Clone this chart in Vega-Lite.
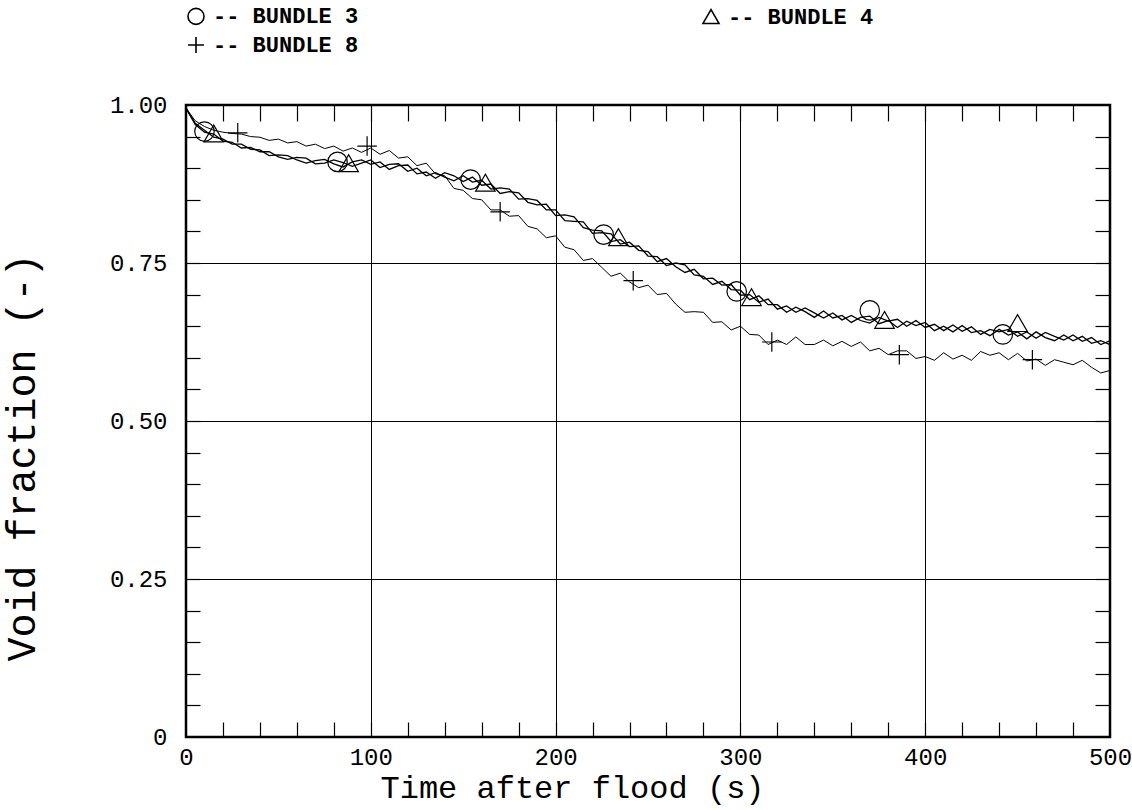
{
"$schema": "https://vega.github.io/schema/vega-lite/v6.json",
"width": 924, "height": 632,
"autosize": {"type": "none"},
"padding": {"left": 186, "top": 105, "right": 22, "bottom": 73},
"background": "white",
"config": {"view": {"stroke": "black", "strokeWidth": 2.5}, "font": "Liberation Mono"},
"datasets": {
"curves": [
{"bundle":"BUNDLE 3","t":0,"v":0.995},{"bundle":"BUNDLE 3","t":5,"v":0.971},{"bundle":"BUNDLE 3","t":10,"v":0.960},{"bundle":"BUNDLE 3","t":15,"v":0.949},{"bundle":"BUNDLE 3","t":20,"v":0.946},{"bundle":"BUNDLE 3","t":25,"v":0.938},{"bundle":"BUNDLE 3","t":30,"v":0.938},{"bundle":"BUNDLE 3","t":35,"v":0.930},{"bundle":"BUNDLE 3","t":40,"v":0.929},{"bundle":"BUNDLE 3","t":45,"v":0.920},{"bundle":"BUNDLE 3","t":50,"v":0.921},{"bundle":"BUNDLE 3","t":55,"v":0.920},{"bundle":"BUNDLE 3","t":60,"v":0.913},{"bundle":"BUNDLE 3","t":65,"v":0.908},{"bundle":"BUNDLE 3","t":70,"v":0.912},{"bundle":"BUNDLE 3","t":75,"v":0.914},{"bundle":"BUNDLE 3","t":80,"v":0.907},{"bundle":"BUNDLE 3","t":85,"v":0.902},{"bundle":"BUNDLE 3","t":90,"v":0.910},{"bundle":"BUNDLE 3","t":95,"v":0.913},{"bundle":"BUNDLE 3","t":100,"v":0.906},{"bundle":"BUNDLE 3","t":105,"v":0.910},{"bundle":"BUNDLE 3","t":110,"v":0.898},{"bundle":"BUNDLE 3","t":115,"v":0.904},{"bundle":"BUNDLE 3","t":120,"v":0.905},{"bundle":"BUNDLE 3","t":125,"v":0.891},{"bundle":"BUNDLE 3","t":130,"v":0.894},{"bundle":"BUNDLE 3","t":135,"v":0.884},{"bundle":"BUNDLE 3","t":140,"v":0.893},{"bundle":"BUNDLE 3","t":145,"v":0.888},{"bundle":"BUNDLE 3","t":150,"v":0.879},{"bundle":"BUNDLE 3","t":155,"v":0.886},{"bundle":"BUNDLE 3","t":160,"v":0.873},{"bundle":"BUNDLE 3","t":165,"v":0.875},{"bundle":"BUNDLE 3","t":170,"v":0.860},{"bundle":"BUNDLE 3","t":175,"v":0.863},{"bundle":"BUNDLE 3","t":180,"v":0.861},{"bundle":"BUNDLE 3","t":185,"v":0.846},{"bundle":"BUNDLE 3","t":190,"v":0.842},{"bundle":"BUNDLE 3","t":195,"v":0.843},{"bundle":"BUNDLE 3","t":200,"v":0.825},{"bundle":"BUNDLE 3","t":205,"v":0.826},{"bundle":"BUNDLE 3","t":210,"v":0.823},{"bundle":"BUNDLE 3","t":215,"v":0.806},{"bundle":"BUNDLE 3","t":220,"v":0.802},{"bundle":"BUNDLE 3","t":225,"v":0.801},{"bundle":"BUNDLE 3","t":230,"v":0.784},{"bundle":"BUNDLE 3","t":235,"v":0.787},{"bundle":"BUNDLE 3","t":240,"v":0.776},{"bundle":"BUNDLE 3","t":245,"v":0.777},{"bundle":"BUNDLE 3","t":250,"v":0.761},{"bundle":"BUNDLE 3","t":255,"v":0.760},{"bundle":"BUNDLE 3","t":260,"v":0.746},{"bundle":"BUNDLE 3","t":265,"v":0.750},{"bundle":"BUNDLE 3","t":270,"v":0.747},{"bundle":"BUNDLE 3","t":275,"v":0.731},{"bundle":"BUNDLE 3","t":280,"v":0.729},{"bundle":"BUNDLE 3","t":285,"v":0.716},{"bundle":"BUNDLE 3","t":290,"v":0.721},{"bundle":"BUNDLE 3","t":295,"v":0.708},{"bundle":"BUNDLE 3","t":300,"v":0.707},{"bundle":"BUNDLE 3","t":305,"v":0.692},{"bundle":"BUNDLE 3","t":310,"v":0.698},{"bundle":"BUNDLE 3","t":315,"v":0.684},{"bundle":"BUNDLE 3","t":320,"v":0.684},{"bundle":"BUNDLE 3","t":325,"v":0.672},{"bundle":"BUNDLE 3","t":330,"v":0.680},{"bundle":"BUNDLE 3","t":335,"v":0.673},{"bundle":"BUNDLE 3","t":340,"v":0.664},{"bundle":"BUNDLE 3","t":345,"v":0.674},{"bundle":"BUNDLE 3","t":350,"v":0.663},{"bundle":"BUNDLE 3","t":355,"v":0.667},{"bundle":"BUNDLE 3","t":360,"v":0.656},{"bundle":"BUNDLE 3","t":365,"v":0.664},{"bundle":"BUNDLE 3","t":370,"v":0.666},{"bundle":"BUNDLE 3","t":375,"v":0.654},{"bundle":"BUNDLE 3","t":380,"v":0.659},{"bundle":"BUNDLE 3","t":385,"v":0.648},{"bundle":"BUNDLE 3","t":390,"v":0.658},{"bundle":"BUNDLE 3","t":395,"v":0.651},{"bundle":"BUNDLE 3","t":400,"v":0.656},{"bundle":"BUNDLE 3","t":405,"v":0.643},{"bundle":"BUNDLE 3","t":410,"v":0.650},{"bundle":"BUNDLE 3","t":415,"v":0.641},{"bundle":"BUNDLE 3","t":420,"v":0.651},{"bundle":"BUNDLE 3","t":425,"v":0.640},{"bundle":"BUNDLE 3","t":430,"v":0.643},{"bundle":"BUNDLE 3","t":435,"v":0.635},{"bundle":"BUNDLE 3","t":440,"v":0.645},{"bundle":"BUNDLE 3","t":445,"v":0.636},{"bundle":"BUNDLE 3","t":450,"v":0.641},{"bundle":"BUNDLE 3","t":455,"v":0.630},{"bundle":"BUNDLE 3","t":460,"v":0.641},{"bundle":"BUNDLE 3","t":465,"v":0.632},{"bundle":"BUNDLE 3","t":470,"v":0.627},{"bundle":"BUNDLE 3","t":475,"v":0.636},{"bundle":"BUNDLE 3","t":480,"v":0.627},{"bundle":"BUNDLE 3","t":485,"v":0.634},{"bundle":"BUNDLE 3","t":490,"v":0.623},{"bundle":"BUNDLE 3","t":495,"v":0.627},{"bundle":"BUNDLE 3","t":500,"v":0.621},
{"bundle":"BUNDLE 4","t":0,"v":0.995},{"bundle":"BUNDLE 4","t":5,"v":0.969},{"bundle":"BUNDLE 4","t":10,"v":0.957},{"bundle":"BUNDLE 4","t":15,"v":0.954},{"bundle":"BUNDLE 4","t":20,"v":0.943},{"bundle":"BUNDLE 4","t":25,"v":0.941},{"bundle":"BUNDLE 4","t":30,"v":0.932},{"bundle":"BUNDLE 4","t":35,"v":0.933},{"bundle":"BUNDLE 4","t":40,"v":0.926},{"bundle":"BUNDLE 4","t":45,"v":0.926},{"bundle":"BUNDLE 4","t":50,"v":0.918},{"bundle":"BUNDLE 4","t":55,"v":0.914},{"bundle":"BUNDLE 4","t":60,"v":0.917},{"bundle":"BUNDLE 4","t":65,"v":0.916},{"bundle":"BUNDLE 4","t":70,"v":0.907},{"bundle":"BUNDLE 4","t":75,"v":0.908},{"bundle":"BUNDLE 4","t":80,"v":0.913},{"bundle":"BUNDLE 4","t":85,"v":0.909},{"bundle":"BUNDLE 4","t":90,"v":0.903},{"bundle":"BUNDLE 4","t":95,"v":0.908},{"bundle":"BUNDLE 4","t":100,"v":0.913},{"bundle":"BUNDLE 4","t":105,"v":0.901},{"bundle":"BUNDLE 4","t":110,"v":0.906},{"bundle":"BUNDLE 4","t":115,"v":0.907},{"bundle":"BUNDLE 4","t":120,"v":0.895},{"bundle":"BUNDLE 4","t":125,"v":0.900},{"bundle":"BUNDLE 4","t":130,"v":0.888},{"bundle":"BUNDLE 4","t":135,"v":0.893},{"bundle":"BUNDLE 4","t":140,"v":0.886},{"bundle":"BUNDLE 4","t":145,"v":0.880},{"bundle":"BUNDLE 4","t":150,"v":0.888},{"bundle":"BUNDLE 4","t":155,"v":0.878},{"bundle":"BUNDLE 4","t":160,"v":0.881},{"bundle":"BUNDLE 4","t":165,"v":0.867},{"bundle":"BUNDLE 4","t":170,"v":0.869},{"bundle":"BUNDLE 4","t":175,"v":0.867},{"bundle":"BUNDLE 4","t":180,"v":0.851},{"bundle":"BUNDLE 4","t":185,"v":0.852},{"bundle":"BUNDLE 4","t":190,"v":0.849},{"bundle":"BUNDLE 4","t":195,"v":0.834},{"bundle":"BUNDLE 4","t":200,"v":0.834},{"bundle":"BUNDLE 4","t":205,"v":0.817},{"bundle":"BUNDLE 4","t":210,"v":0.816},{"bundle":"BUNDLE 4","t":215,"v":0.815},{"bundle":"BUNDLE 4","t":220,"v":0.797},{"bundle":"BUNDLE 4","t":225,"v":0.798},{"bundle":"BUNDLE 4","t":230,"v":0.796},{"bundle":"BUNDLE 4","t":235,"v":0.780},{"bundle":"BUNDLE 4","t":240,"v":0.783},{"bundle":"BUNDLE 4","t":245,"v":0.770},{"bundle":"BUNDLE 4","t":250,"v":0.768},{"bundle":"BUNDLE 4","t":255,"v":0.752},{"bundle":"BUNDLE 4","t":260,"v":0.757},{"bundle":"BUNDLE 4","t":265,"v":0.744},{"bundle":"BUNDLE 4","t":270,"v":0.735},{"bundle":"BUNDLE 4","t":275,"v":0.740},{"bundle":"BUNDLE 4","t":280,"v":0.725},{"bundle":"BUNDLE 4","t":285,"v":0.726},{"bundle":"BUNDLE 4","t":290,"v":0.715},{"bundle":"BUNDLE 4","t":295,"v":0.716},{"bundle":"BUNDLE 4","t":300,"v":0.699},{"bundle":"BUNDLE 4","t":305,"v":0.700},{"bundle":"BUNDLE 4","t":310,"v":0.688},{"bundle":"BUNDLE 4","t":315,"v":0.693},{"bundle":"BUNDLE 4","t":320,"v":0.677},{"bundle":"BUNDLE 4","t":325,"v":0.682},{"bundle":"BUNDLE 4","t":330,"v":0.672},{"bundle":"BUNDLE 4","t":335,"v":0.679},{"bundle":"BUNDLE 4","t":340,"v":0.671},{"bundle":"BUNDLE 4","t":345,"v":0.663},{"bundle":"BUNDLE 4","t":350,"v":0.671},{"bundle":"BUNDLE 4","t":355,"v":0.660},{"bundle":"BUNDLE 4","t":360,"v":0.667},{"bundle":"BUNDLE 4","t":365,"v":0.659},{"bundle":"BUNDLE 4","t":370,"v":0.655},{"bundle":"BUNDLE 4","t":375,"v":0.664},{"bundle":"BUNDLE 4","t":380,"v":0.658},{"bundle":"BUNDLE 4","t":385,"v":0.661},{"bundle":"BUNDLE 4","t":390,"v":0.650},{"bundle":"BUNDLE 4","t":395,"v":0.659},{"bundle":"BUNDLE 4","t":400,"v":0.648},{"bundle":"BUNDLE 4","t":405,"v":0.653},{"bundle":"BUNDLE 4","t":410,"v":0.643},{"bundle":"BUNDLE 4","t":415,"v":0.652},{"bundle":"BUNDLE 4","t":420,"v":0.642},{"bundle":"BUNDLE 4","t":425,"v":0.649},{"bundle":"BUNDLE 4","t":430,"v":0.637},{"bundle":"BUNDLE 4","t":435,"v":0.645},{"bundle":"BUNDLE 4","t":440,"v":0.641},{"bundle":"BUNDLE 4","t":445,"v":0.645},{"bundle":"BUNDLE 4","t":450,"v":0.634},{"bundle":"BUNDLE 4","t":455,"v":0.641},{"bundle":"BUNDLE 4","t":460,"v":0.631},{"bundle":"BUNDLE 4","t":465,"v":0.640},{"bundle":"BUNDLE 4","t":470,"v":0.634},{"bundle":"BUNDLE 4","t":475,"v":0.628},{"bundle":"BUNDLE 4","t":480,"v":0.636},{"bundle":"BUNDLE 4","t":485,"v":0.626},{"bundle":"BUNDLE 4","t":490,"v":0.632},{"bundle":"BUNDLE 4","t":495,"v":0.621},{"bundle":"BUNDLE 4","t":500,"v":0.627},
{"bundle":"BUNDLE 8","t":0,"v":0.995},{"bundle":"BUNDLE 8","t":5,"v":0.975},{"bundle":"BUNDLE 8","t":10,"v":0.966},{"bundle":"BUNDLE 8","t":15,"v":0.960},{"bundle":"BUNDLE 8","t":20,"v":0.957},{"bundle":"BUNDLE 8","t":25,"v":0.955},{"bundle":"BUNDLE 8","t":30,"v":0.954},{"bundle":"BUNDLE 8","t":35,"v":0.950},{"bundle":"BUNDLE 8","t":40,"v":0.949},{"bundle":"BUNDLE 8","t":45,"v":0.944},{"bundle":"BUNDLE 8","t":50,"v":0.946},{"bundle":"BUNDLE 8","t":55,"v":0.940},{"bundle":"BUNDLE 8","t":60,"v":0.942},{"bundle":"BUNDLE 8","t":65,"v":0.935},{"bundle":"BUNDLE 8","t":70,"v":0.938},{"bundle":"BUNDLE 8","t":75,"v":0.931},{"bundle":"BUNDLE 8","t":80,"v":0.935},{"bundle":"BUNDLE 8","t":85,"v":0.927},{"bundle":"BUNDLE 8","t":90,"v":0.932},{"bundle":"BUNDLE 8","t":95,"v":0.925},{"bundle":"BUNDLE 8","t":100,"v":0.932},{"bundle":"BUNDLE 8","t":105,"v":0.922},{"bundle":"BUNDLE 8","t":110,"v":0.928},{"bundle":"BUNDLE 8","t":115,"v":0.916},{"bundle":"BUNDLE 8","t":120,"v":0.918},{"bundle":"BUNDLE 8","t":125,"v":0.904},{"bundle":"BUNDLE 8","t":130,"v":0.908},{"bundle":"BUNDLE 8","t":135,"v":0.891},{"bundle":"BUNDLE 8","t":140,"v":0.888},{"bundle":"BUNDLE 8","t":145,"v":0.868},{"bundle":"BUNDLE 8","t":150,"v":0.865},{"bundle":"BUNDLE 8","t":155,"v":0.852},{"bundle":"BUNDLE 8","t":160,"v":0.850},{"bundle":"BUNDLE 8","t":165,"v":0.834},{"bundle":"BUNDLE 8","t":170,"v":0.834},{"bundle":"BUNDLE 8","t":175,"v":0.824},{"bundle":"BUNDLE 8","t":180,"v":0.825},{"bundle":"BUNDLE 8","t":185,"v":0.808},{"bundle":"BUNDLE 8","t":190,"v":0.804},{"bundle":"BUNDLE 8","t":195,"v":0.790},{"bundle":"BUNDLE 8","t":200,"v":0.793},{"bundle":"BUNDLE 8","t":205,"v":0.775},{"bundle":"BUNDLE 8","t":210,"v":0.771},{"bundle":"BUNDLE 8","t":215,"v":0.754},{"bundle":"BUNDLE 8","t":220,"v":0.757},{"bundle":"BUNDLE 8","t":225,"v":0.743},{"bundle":"BUNDLE 8","t":230,"v":0.729},{"bundle":"BUNDLE 8","t":235,"v":0.734},{"bundle":"BUNDLE 8","t":240,"v":0.720},{"bundle":"BUNDLE 8","t":245,"v":0.711},{"bundle":"BUNDLE 8","t":250,"v":0.715},{"bundle":"BUNDLE 8","t":255,"v":0.700},{"bundle":"BUNDLE 8","t":260,"v":0.702},{"bundle":"BUNDLE 8","t":265,"v":0.685},{"bundle":"BUNDLE 8","t":270,"v":0.672},{"bundle":"BUNDLE 8","t":275,"v":0.673},{"bundle":"BUNDLE 8","t":280,"v":0.672},{"bundle":"BUNDLE 8","t":285,"v":0.656},{"bundle":"BUNDLE 8","t":290,"v":0.657},{"bundle":"BUNDLE 8","t":295,"v":0.644},{"bundle":"BUNDLE 8","t":300,"v":0.650},{"bundle":"BUNDLE 8","t":305,"v":0.637},{"bundle":"BUNDLE 8","t":310,"v":0.636},{"bundle":"BUNDLE 8","t":315,"v":0.621},{"bundle":"BUNDLE 8","t":320,"v":0.628},{"bundle":"BUNDLE 8","t":325,"v":0.621},{"bundle":"BUNDLE 8","t":330,"v":0.633},{"bundle":"BUNDLE 8","t":335,"v":0.621},{"bundle":"BUNDLE 8","t":340,"v":0.621},{"bundle":"BUNDLE 8","t":345,"v":0.628},{"bundle":"BUNDLE 8","t":350,"v":0.619},{"bundle":"BUNDLE 8","t":355,"v":0.626},{"bundle":"BUNDLE 8","t":360,"v":0.618},{"bundle":"BUNDLE 8","t":365,"v":0.625},{"bundle":"BUNDLE 8","t":370,"v":0.611},{"bundle":"BUNDLE 8","t":375,"v":0.615},{"bundle":"BUNDLE 8","t":380,"v":0.605},{"bundle":"BUNDLE 8","t":385,"v":0.611},{"bundle":"BUNDLE 8","t":390,"v":0.611},{"bundle":"BUNDLE 8","t":395,"v":0.599},{"bundle":"BUNDLE 8","t":400,"v":0.602},{"bundle":"BUNDLE 8","t":405,"v":0.596},{"bundle":"BUNDLE 8","t":410,"v":0.608},{"bundle":"BUNDLE 8","t":415,"v":0.598},{"bundle":"BUNDLE 8","t":420,"v":0.604},{"bundle":"BUNDLE 8","t":425,"v":0.596},{"bundle":"BUNDLE 8","t":430,"v":0.610},{"bundle":"BUNDLE 8","t":435,"v":0.604},{"bundle":"BUNDLE 8","t":440,"v":0.608},{"bundle":"BUNDLE 8","t":445,"v":0.597},{"bundle":"BUNDLE 8","t":450,"v":0.607},{"bundle":"BUNDLE 8","t":455,"v":0.595},{"bundle":"BUNDLE 8","t":460,"v":0.598},{"bundle":"BUNDLE 8","t":465,"v":0.588},{"bundle":"BUNDLE 8","t":470,"v":0.597},{"bundle":"BUNDLE 8","t":475,"v":0.593},{"bundle":"BUNDLE 8","t":480,"v":0.589},{"bundle":"BUNDLE 8","t":485,"v":0.596},{"bundle":"BUNDLE 8","t":490,"v":0.585},{"bundle":"BUNDLE 8","t":495,"v":0.576},{"bundle":"BUNDLE 8","t":500,"v":0.580}
],
"markers": [
{"bundle":"BUNDLE 3","t":10,"v":0.958},{"bundle":"BUNDLE 3","t":82,"v":0.910},{"bundle":"BUNDLE 3","t":154,"v":0.882},{"bundle":"BUNDLE 3","t":226,"v":0.795},{"bundle":"BUNDLE 3","t":298,"v":0.705},{"bundle":"BUNDLE 3","t":370,"v":0.675},{"bundle":"BUNDLE 3","t":442,"v":0.637},
{"bundle":"BUNDLE 4","t":15,"v":0.955},{"bundle":"BUNDLE 4","t":88,"v":0.908},{"bundle":"BUNDLE 4","t":162,"v":0.877},{"bundle":"BUNDLE 4","t":234,"v":0.791},{"bundle":"BUNDLE 4","t":306,"v":0.696},{"bundle":"BUNDLE 4","t":378,"v":0.660},{"bundle":"BUNDLE 4","t":450,"v":0.655},
{"bundle":"BUNDLE 8","t":28,"v":0.956},{"bundle":"BUNDLE 8","t":98,"v":0.935},{"bundle":"BUNDLE 8","t":170,"v":0.831},{"bundle":"BUNDLE 8","t":242,"v":0.722},{"bundle":"BUNDLE 8","t":317,"v":0.625},{"bundle":"BUNDLE 8","t":386,"v":0.605},{"bundle":"BUNDLE 8","t":458,"v":0.597}
]
},
"layer": [
{
"data": {"name": "curves"},
"transform": [{"filter": "datum.bundle != 'BUNDLE 8'"}],
"mark": {"type": "line", "color": "black", "strokeWidth": 1.3},
"encoding": {
"x": {"field": "t", "type": "quantitative", "scale": {"domain": [0, 500], "nice": false, "zero": false},
"axis": {"orient": "bottom", "values": [0, 100, 200, 300, 400, 500], "grid": true, "gridColor": "black", "gridWidth": 1, "gridOpacity": 1, "ticks": false, "domain": false, "labelFont": "Liberation Mono", "labelFontSize": 24, "labelColor": "black", "labelPadding": 8, "labelFlush": false, "title": "Time after flood (s)", "titleFont": "Liberation Mono", "titleFontSize": 32, "titleFontWeight": "normal", "titleColor": "black", "titleX": 386, "titleY": 50, "titleBaseline": "middle", "titleAlign": "center"}},
"y": {"field": "v", "type": "quantitative", "scale": {"domain": [0, 1], "nice": false},
"axis": {"orient": "left", "values": [0, 0.25, 0.5, 0.75, 1], "grid": true, "gridColor": "black", "gridWidth": 1, "gridOpacity": 1, "ticks": false, "domain": false, "labelFont": "Liberation Mono", "labelFontSize": 24, "labelColor": "black", "labelPadding": 19, "labelFlush": false, "labelExpr": "datum.value == 0 ? '0' : format(datum.value, '.2f')", "title": "Void fraction (-)", "titleFont": "Liberation Mono", "titleFontSize": 40, "titleFontWeight": "normal", "titleColor": "black", "titleX": -164, "titleY": 352, "titleAngle": -90, "titleBaseline": "middle", "titleAlign": "center"}},
"detail": {"field": "bundle"}
}
},
{
"data": {"name": "curves"},
"transform": [{"filter": "datum.bundle == 'BUNDLE 8'"}],
"mark": {"type": "line", "color": "black", "strokeWidth": 1},
"encoding": {
"x": {"field": "t", "type": "quantitative",
"axis": {"orient": "top", "values": [20,40,60,80,100,120,140,160,180,200,220,240,260,280,300,320,340,360,380,400,420,440,460,480], "labels": false, "grid": false, "domain": false, "ticks": true, "tickSize": -16, "tickColor": "black", "tickWidth": 1.2, "title": null}},
"y": {"field": "v", "type": "quantitative",
"axis": {"orient": "right", "values": [0.05,0.1,0.15,0.2,0.25,0.3,0.35,0.4,0.45,0.5,0.55,0.6,0.65,0.7,0.75,0.8,0.85,0.9,0.95], "labels": false, "grid": false, "domain": false, "ticks": true, "tickSize": -15, "tickColor": "black", "tickWidth": 1.2, "title": null}}
}
},
{
"data": {"name": "markers"},
"mark": {"type": "point", "filled": false, "color": "black", "strokeWidth": 1.2, "opacity": 1},
"encoding": {
"x": {"field": "t", "type": "quantitative",
"axis": {"orient": "bottom", "values": [20,40,60,80,100,120,140,160,180,200,220,240,260,280,300,320,340,360,380,400,420,440,460,480], "labels": false, "grid": false, "domain": false, "ticks": true, "tickSize": -15, "tickColor": "black", "tickWidth": 1.2, "title": null}},
"y": {"field": "v", "type": "quantitative",
"axis": {"orient": "left", "values": [0.05,0.1,0.15,0.2,0.25,0.3,0.35,0.4,0.45,0.5,0.55,0.6,0.65,0.7,0.75,0.8,0.85,0.9,0.95], "labels": false, "grid": false, "domain": false, "ticks": true, "tickSize": -14, "tickColor": "black", "tickWidth": 1.2, "title": null}},
"shape": {"field": "bundle", "type": "nominal",
"scale": {"domain": ["BUNDLE 3", "BUNDLE 4", "BUNDLE 8"], "range": ["circle", "triangle-up", "M-1,0H1M0,-1V1"]},
"legend": {"orient": "none", "legendX": -1, "legendY": -100, "direction": "horizontal", "columns": 2, "columnPadding": 340, "rowPadding": 5, "title": null, "symbolSize": 256, "symbolStrokeColor": "black", "symbolStrokeWidth": 1.6, "symbolFillColor": "transparent", "labelFont": "Liberation Mono", "labelFontSize": 22, "labelFontWeight": "bold", "labelColor": "black", "labelOffset": 6, "labelExpr": "'-- ' + datum.label"}},
"size": {"value": 380}
}
}
],
"resolve": {"axis": {"x": "independent", "y": "independent"}}
}
